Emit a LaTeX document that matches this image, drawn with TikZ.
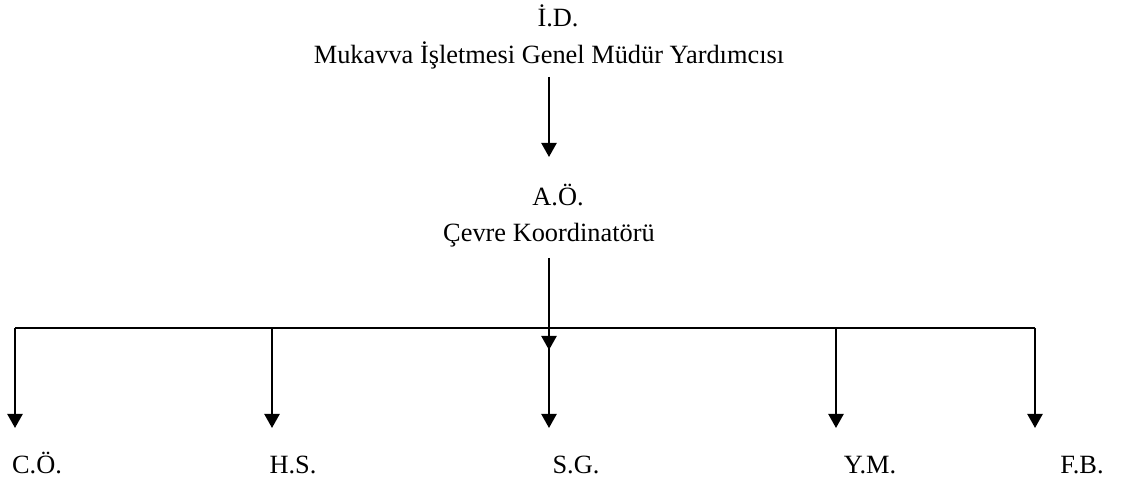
\documentclass[tikz,border=0pt]{standalone}
\usepackage{fontspec}
\setmainfont{Liberation Serif}
\usetikzlibrary{arrows.meta}

\tikzset{
    lbl/.style={anchor=base, inner sep=0pt, font=\fontsize{15}{18}\selectfont},
    conn/.style={line width=1.3pt, -{Triangle[length=0.28cm, width=0.3cm]}},
    bar/.style={line width=1.1pt},
}

\begin{document}
\begin{tikzpicture}
    \useasboundingbox (0,0) rectangle (22.48,9.9);
    \node[lbl] (ID) at (11.16, 9.36) {İ.D.};
    \node[lbl] (GMY) at (10.98, 8.62) {Mukavva İşletmesi Genel Müdür Yardımcısı};
    \node[lbl] (AO) at (11.16, 5.78) {A.Ö.};
    \node[lbl] (CK) at (10.98, 5.06) {Çevre Koordinatörü};
    \node[lbl] (CO) at (0.74, 0.42) {C.Ö.};
    \node[lbl] (HS) at (5.86, 0.42) {H.S.};
    \node[lbl] (SG) at (11.52, 0.42) {S.G.};
    \node[lbl] (YM) at (17.40, 0.42) {Y.M.};
    \node[lbl] (FB) at (21.64, 0.42) {F.B.};
    \coordinate (GMYout) at (10.98, 8.36);
    \coordinate (AOin) at (10.98, 6.76);
    \coordinate (CKout) at (10.98, 4.74);
    \coordinate (CKend) at (10.98, 2.90);
    \coordinate (b1) at (0.30, 3.34);
    \coordinate (b2) at (5.44, 3.34);
    \coordinate (b3) at (10.98, 3.34);
    \coordinate (b4) at (16.72, 3.34);
    \coordinate (b5) at (20.70, 3.34);
    \coordinate (e1) at (0.30, 1.34);
    \coordinate (e2) at (5.44, 1.34);
    \coordinate (e3) at (10.98, 1.34);
    \coordinate (e4) at (16.72, 1.34);
    \coordinate (e5) at (20.70, 1.34);
    \draw[conn] (GMYout) -- (AOin);
    \draw[bar] (b1) -- (b5);
    \draw[conn] (CKout) -- (CKend);
    \draw[conn] (b1) -- (e1);
    \draw[conn] (b2) -- (e2);
    \draw[conn] (b3) -- (e3);
    \draw[conn] (b4) -- (e4);
    \draw[conn] (b5) -- (e5);
\end{tikzpicture}
\end{document}
